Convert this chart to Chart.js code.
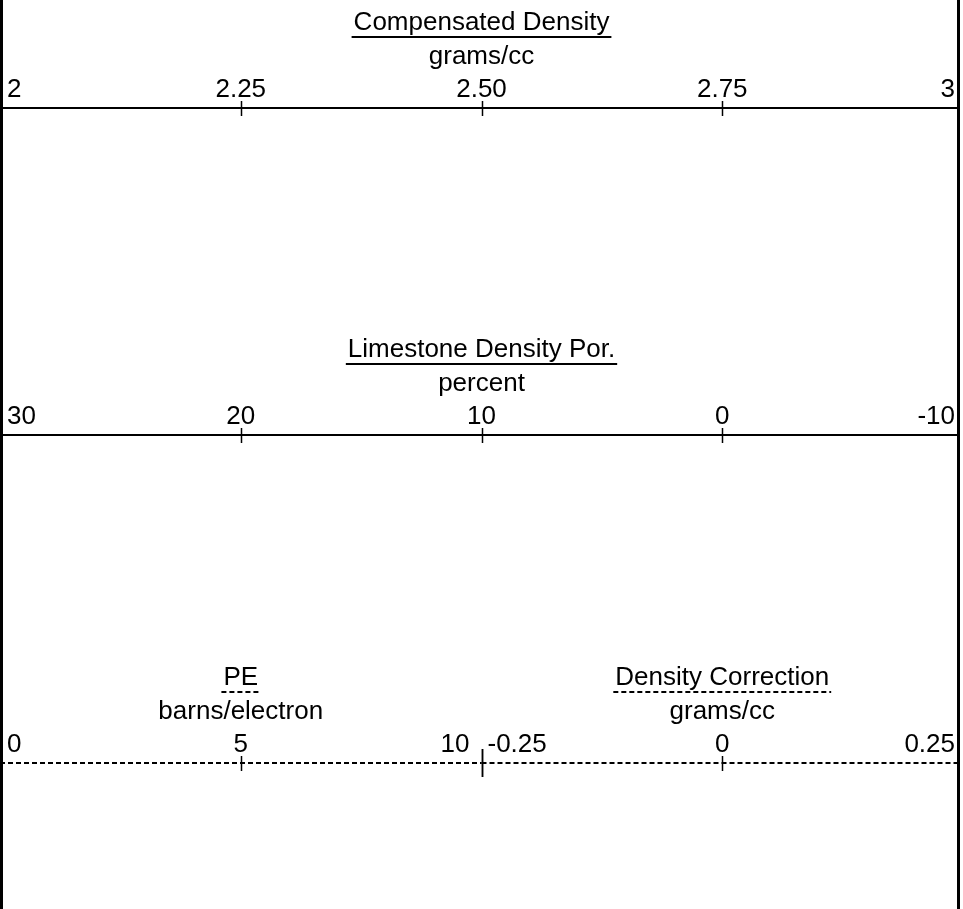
<!DOCTYPE html>
<html>
<head>
<meta charset="utf-8">
<title>Density log header</title>
<style>
  html, body { margin: 0; padding: 0; background: #fff; }
  #wrap { width: 963px; height: 909px; position: relative; }
</style>
<script src="https://cdn.jsdelivr.net/npm/chart.js@4/dist/chart.umd.min.js"></script>
</head>
<body>
<div id="wrap"><canvas id="logHeader"></canvas></div>
<script>
// scale values for each curve
const densityTicks = [2, 2.25, 2.5, 2.75, 3];
const densityLabels = ["2", "2.25", "2.50", "2.75", "3"];
const porosityTicks = [30, 20, 10, 0, -10];
const porosityLabels = ["30", "20", "10", "0", "-10"];
const peTicks = [0, 5, 10];
const peLabels = ["0", "5", "10"];
const corrTicks = [-0.25, 0, 0.25];
const corrLabels = ["-0.25", "0", "0.25"];

const FONT = "26px 'Liberation Sans', Arimo, Arial, sans-serif";
const TRACK_RIGHT = 960;

// one header block per curve; row = pixel of the scale line
const curves = [
  { scale: "xDen", title: "Compensated Density", unit: "grams/cc", ticks: densityTicks, labels: densityLabels, row: 108, dashed: false },
  { scale: "xPor", title: "Limestone Density Por.", unit: "percent", ticks: porosityTicks, labels: porosityLabels, row: 435, dashed: false },
  { scale: "xPe", title: "PE", unit: "barns/electron", ticks: peTicks, labels: peLabels, row: 763, dashed: true },
  { scale: "xCorr", title: "Density Correction", unit: "grams/cc", ticks: corrTicks, labels: corrLabels, row: 763, dashed: true },
];

const headerPlugin = {
  id: "logHeader",
  afterDraw(chart) {
    const ctx = chart.ctx;
    const area = chart.chartArea;
    ctx.save();
    ctx.beginPath();
    ctx.rect(0, 0, TRACK_RIGHT, chart.height);
    ctx.clip();
    ctx.strokeStyle = "#000";
    ctx.fillStyle = "#000";
    ctx.font = FONT;

    curves.forEach((c) => {
      const scale = chart.scales[c.scale];
      const first = c.ticks[0];
      const last = c.ticks[c.ticks.length - 1];
      const x0 = scale.getPixelForValue(first);
      const x1 = scale.getPixelForValue(last);
      const left = Math.min(x0, x1);
      const right = Math.max(x0, x1);
      const mid = c.ticks[Math.floor(c.ticks.length / 2)];
      const cx = scale.getPixelForValue(mid);

      // scale line
      ctx.lineWidth = 2;
      ctx.setLineDash(c.dashed ? [5, 3] : []);
      ctx.beginPath();
      ctx.moveTo(left, c.row);
      ctx.lineTo(right, c.row);
      ctx.stroke();
      ctx.setLineDash([]);

      // tick marks
      ctx.lineWidth = 1.5;
      c.ticks.forEach((t, i) => {
        const px = Math.round(scale.getPixelForValue(t)) + 0.5;
        if (i > 0 && i < c.ticks.length - 1) {
          ctx.beginPath();
          ctx.moveTo(px, c.row - 7);
          ctx.lineTo(px, c.row + 8);
          ctx.stroke();
        } else if (px > area.left + 5 && px < area.right - 5) {
          // divider between half-track curves
          ctx.beginPath();
          ctx.moveTo(px, c.row - 14);
          ctx.lineTo(px, c.row + 14);
          ctx.stroke();
        }
      });

      // tick labels
      ctx.textBaseline = "alphabetic";
      c.ticks.forEach((t, i) => {
        const raw = scale.getPixelForValue(t);
        const px = Math.min(raw, TRACK_RIGHT);
        const atEdge = raw < area.left + 5 || raw > area.right - 5;
        if (i === 0) {
          ctx.textAlign = "left";
          ctx.fillText(c.labels[i], px + (atEdge ? 7 : 6), c.row - 11);
        } else if (i === c.ticks.length - 1) {
          ctx.textAlign = "right";
          ctx.fillText(c.labels[i], px - (atEdge ? 5 : 12), c.row - 11);
        } else {
          ctx.textAlign = "center";
          ctx.fillText(c.labels[i], px, c.row - 11);
        }
      });

      // title, underline, unit
      ctx.textAlign = "center";
      ctx.fillText(c.title, cx, c.row - 78);
      const w = ctx.measureText(c.title).width + 4;
      ctx.lineWidth = 2;
      ctx.setLineDash(c.dashed ? [5, 3] : []);
      ctx.beginPath();
      ctx.moveTo(cx - w / 2, c.row - 71);
      ctx.lineTo(cx + w / 2, c.row - 71);
      ctx.stroke();
      ctx.setLineDash([]);
      ctx.fillText(c.unit, cx, c.row - 44);
    });

    // track borders
    ctx.fillRect(0, 0, 3, chart.height);
    ctx.fillRect(TRACK_RIGHT - 3, 0, 3, chart.height);
    ctx.restore();
  },
};

new Chart(document.getElementById("logHeader"), {
  type: "line",
  data: {
    datasets: curves.map((c) => ({
      label: c.title,
      xAxisID: c.scale,
      data: [],
      borderColor: "#000",
      borderDash: c.dashed ? [5, 3] : [],
    })),
  },
  options: {
    responsive: true,
    maintainAspectRatio: false,
    animation: false,
    layout: { padding: 0 },
    plugins: { legend: { display: false }, tooltip: { enabled: false } },
    scales: {
      xDen: { type: "linear", min: 2, max: 3, display: false },
      xPor: { type: "linear", min: -10, max: 30, reverse: true, display: false },
      xPe: { type: "linear", min: 0, max: 20, display: false },
      xCorr: { type: "linear", min: -0.75, max: 0.25, display: false },
      y: { type: "linear", min: 0, max: 1, display: false },
    },
  },
  plugins: [headerPlugin],
});
</script>
</body>
</html>
